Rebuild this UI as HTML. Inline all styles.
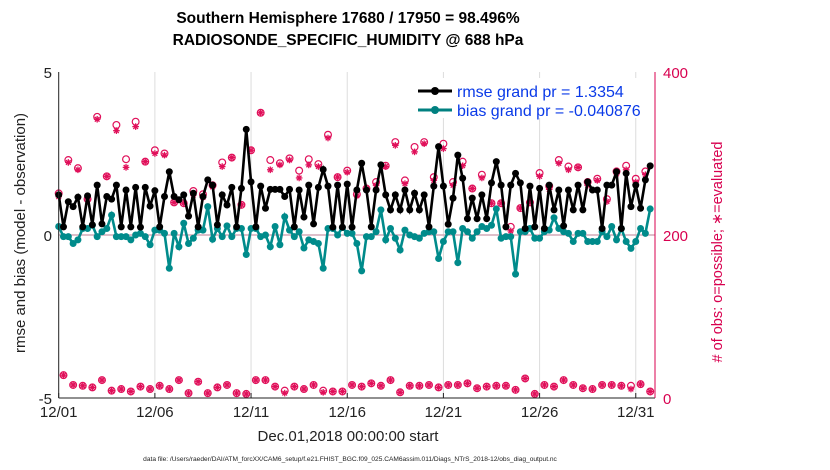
<!DOCTYPE html>
<html><head><meta charset="utf-8"><style>
body{margin:0;background:#fff;}
svg{display:block;font-family:"Liberation Sans",sans-serif;}
</style></head><body>
<svg id="chart" width="830" height="470">
<g id="grid"></g>
<line x1="58.7" y1="235" x2="655" y2="235" stroke="#d4aab8" stroke-width="1.5"/>
<g id="marks"></g>
<line x1="58.7" y1="72" x2="58.7" y2="398" stroke="#222"/>
<line x1="58.7" y1="398" x2="655" y2="398" stroke="#222"/>
<line x1="655" y1="72" x2="655" y2="398" stroke="#d8004f"/>
<g id="ticks"></g>
<text x="348" y="23" text-anchor="middle" font-size="15.5" font-weight="bold">Southern Hemisphere 17680 / 17950 = 98.496%</text>
<text x="348" y="45" text-anchor="middle" font-size="15.5" font-weight="bold">RADIOSONDE_SPECIFIC_HUMIDITY @ 688 hPa</text>
<text transform="translate(25,233) rotate(-90)" text-anchor="middle" font-size="15" fill="#222">rmse and bias (model - observation)</text>
<text transform="translate(722,252) rotate(-90)" text-anchor="middle" font-size="14.5" fill="#d8004f"># of obs: o=possible; ∗=evaluated</text>
<text x="348" y="441" text-anchor="middle" font-size="15" fill="#222">Dec.01,2018 00:00:00 start</text>
<text x="350" y="461" text-anchor="middle" font-size="6.6" fill="#222">data file: /Users/raeder/DAI/ATM_forcXX/CAM6_setup/f.e21.FHIST_BGC.f09_025.CAM6assim.011/Diags_NTrS_2018-12/obs_diag_output.nc</text>
<g>
<rect x="412" y="78" width="238" height="40" fill="#fff"/>
<g><line x1="418" y1="91" x2="452" y2="91" stroke="#000" stroke-width="3"/><circle cx="435" cy="91" r="4" fill="#000"/>
<text x="457" y="97" font-size="16" fill="#0a3ae8">rmse grand pr = 1.3354</text></g>
<g><line x1="418" y1="110" x2="452" y2="110" stroke="#008080" stroke-width="3"/><circle cx="435" cy="110" r="4" fill="#008080"/>
<text x="457" y="116" font-size="16" fill="#0a3ae8">bias grand pr = -0.040876</text></g>
</g>
</svg>
<script>
const xTickLabels=["12/01","12/06","12/11","12/16","12/21","12/26","12/31"];
const xTickDays=[0,5,10,15,20,25,30];
const yLeftTicks=[-5,0,5];
const yRightTicks=[0,200,400];
const rmse=[1.23,0.25,1.02,0.87,1.16,0.25,1.2,0.31,1.53,0.34,1.18,1.1,1.53,0.25,1.38,0.25,1.46,0.24,1.46,0.89,1.36,
0.25,1.18,1.94,1.18,1.08,1.23,0.58,1.28,0.25,1.18,1.69,1.53,0.31,1.23,0.92,1.46,0.25,1.43,3.24,1.63,0.25,
1.5,0.82,1.4,1.4,1.4,1.18,1.4,0.25,1.38,0.55,1.53,0.34,1.46,2.01,1.5,0.24,1.53,0.24,1.56,0.24,1.38,
2.2,1.38,0.25,1.38,2.15,1.23,0.77,1.23,0.77,1.38,0.77,1.28,0.77,1.23,0.25,1.5,2.71,
1.5,0.33,1.13,2.45,1.74,0.5,1.13,0.5,1.23,0.5,1.6,2.25,1.53,0.25,1.53,1.89,1.6,0.2,1.5,0.25,1.43,0.2,1.53,0.77,1.38,0.28,1.38,0.77,1.53,0.77,1.63,1.38,1.38,0.2,1.53,1.53,1.94,0.2,1.89,0.87,1.53,0.82,1.69,2.12];
const bias=[0.26,-0.05,-0.05,-0.26,-0.15,0.2,0.2,0.3,-0.05,0.1,0.2,0.61,-0.05,-0.05,-0.05,-0.15,0,0.05,-0.05,-0.3,0.15,
0.15,0.05,-1.02,0.05,-0.36,0.36,-0.26,-0.1,0.15,0.15,0.87,-0.13,0.2,-0.05,0.28,-0.05,0.2,0.2,-0.6,0.2,0.2,
-0.05,0,-0.36,0.26,-0.3,0.56,0.15,-0.05,0.1,-0.4,-0.15,-0.2,-0.26,-1.02,0.2,0.2,0,0.23,0.05,0.05,-0.26,
-1.1,-0.05,-0.05,0.1,0.77,-0.15,0.2,-0.1,-0.46,0.15,0,-0.05,-0.1,0.05,0.1,0.1,-0.72,-0.2,
0.1,0.1,-0.85,0.2,0.1,-0.1,0.1,0.26,0.2,0.3,0.8,-0.1,-0.05,-0.05,-1.2,0.1,0.1,0.2,-0.1,-0.1,0.1,0.15,0.53,0.2,0.1,0.05,-0.2,0.05,0.05,-0.2,-0.2,-0.2,0.1,-0.05,0.26,-0.15,0.2,-0.2,-0.41,-0.2,0.2,0.05,0.8];
const possibleMain=[251,292,282,244,345,272,335,293,339,290,304,300,240,239,254,250,261,289,295,237,304,350,292,288,294,279,293,287,323,271,279,250,257,265,285,314,267,308,314,271,312,265,290,257,274,239,239,210,233,240,276,260,292,284,283,265,269,244,278,285,269,278];
const evaluatedMain=[247,289,280,244,342,272,328,283,333,290,300,298,240,239,249,246,259,284,295,237,304,350,280,286,292,270,286,284,319,271,277,248,257,261,284,310,263,302,312,267,306,261,285,257,270,239,239,205,233,240,272,256,288,280,283,261,267,241,275,280,265,274];
const possibleOff=[28,16,15,13,22,9,11,8,14,11,15,11,22,6,20,6,13,16,6,5,22,22,14,9,14,11,16,9,8,8,16,14,18,15,22,7,15,15,16,13,16,16,18,12,14,15,15,10,24,5,16,14,22,16,12,11,16,16,15,15,17,8];
const evaluatedOff=[28,16,15,13,22,9,11,8,14,11,15,11,22,6,20,6,13,16,6,5,22,22,14,6,14,11,16,7,8,8,16,14,18,15,22,7,15,15,16,13,16,16,18,12,14,15,15,10,24,5,16,14,22,16,12,11,16,16,15,11,17,8];

const NS="http://www.w3.org/2000/svg";
const X0=58.7,X1=655,DAYS=31,YT=72,YB=398;
const xs=d=>X0+(X1-X0)*d/DAYS;
const yl=v=>YB-(v+5)/10*(YB-YT);
const yr=n=>YB-n/400*(YB-YT);
function mk(tag,attrs,parent){const e=document.createElementNS(NS,tag);for(const k in attrs)e.setAttribute(k,attrs[k]);parent.appendChild(e);return e;}
const grid=document.getElementById('grid'),marks=document.getElementById('marks'),ticks=document.getElementById('ticks');
xTickDays.forEach((d,i)=>{
  if(d>0){const g=mk('line',{x1:xs(d),x2:xs(d),y1:YT,y2:YB,stroke:'#dcdcdc'},grid);
  
  }
  const t=mk('text',{x:xs(d),y:417,'text-anchor':'middle','font-size':15,fill:'#222'},ticks);
  t.textContent=xTickLabels[i];
  
  
  const tk=mk('line',{x1:xs(d),x2:xs(d),y1:YB,y2:YB-5,stroke:'#222'},ticks);
  
  
});
yLeftTicks.forEach(v=>{
  const t=mk('text',{x:52,y:yl(v)+6,'text-anchor':'end','font-size':15,fill:'#222'},ticks);
  t.textContent=String(v);
  
  
});
yRightTicks.forEach(v=>{
  const t=mk('text',{x:663,y:yr(v)+6,'font-size':15,fill:'#d8004f'},ticks);
  t.textContent=String(v);
  
  
});
function star(cx,cy,parent){
  const g=mk('g',{stroke:'#e0105a','stroke-width':1.3},parent);
  
  
  for(let a=0;a<4;a++){const r=a*Math.PI/4;mk('line',{x1:cx-3.3*Math.cos(r),y1:cy-3.3*Math.sin(r),x2:cx+3.3*Math.cos(r),y2:cy+3.3*Math.sin(r)},g);}
}
function obs(idx,p,e){
  const x=xs(idx*0.25);
  const c=mk('circle',{cx:x,cy:yr(p),r:3.4,fill:'none',stroke:'#e0105a','stroke-width':1.2},marks);
  
  
  star(x,yr(e),marks);
}
possibleMain.forEach((p,i)=>obs(2*i,p,evaluatedMain[i]));
possibleOff.forEach((p,i)=>obs(2*i+1,p,evaluatedOff[i]));
function series(vals,color,name){
  const pts=vals.map((v,i)=>xs(i*0.25)+','+yl(v)).join(' ');
  const pl=mk('polyline',{points:pts,fill:'none',stroke:color,'stroke-width':2.6},marks);
  
  
  vals.forEach((v,i)=>{
    const c=mk('circle',{cx:xs(i*0.25),cy:yl(v),r:3.5,fill:color},marks);
    
    
  });
}
series(bias,'#008b8b','bias');
series(rmse,'#000','rmse');
</script>
</body></html>
